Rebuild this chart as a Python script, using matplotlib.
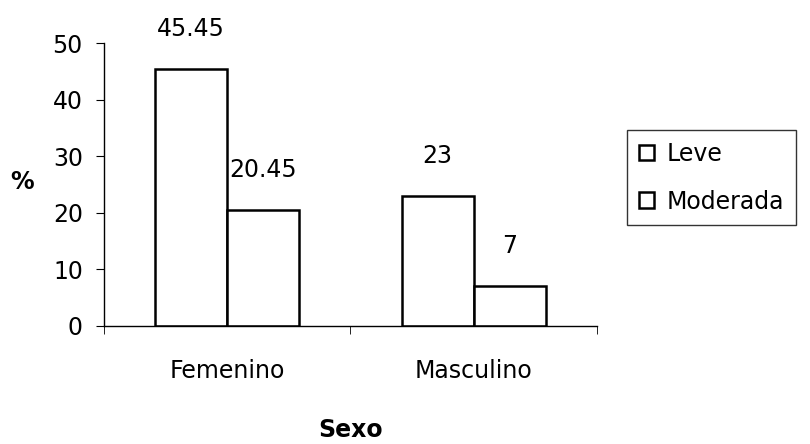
import numpy as np
import matplotlib.pyplot as plt

plt.rcParams['font.family'] = ['DejaVu Sans']

sexo = ['Femenino', 'Masculino']
leve = [45.45, 23]
moderada = [20.45, 7]
etiquetas_leve = ['45.45', '23']
etiquetas_moderada = ['20.45', '7']

fs = 17

fig = plt.figure(figsize=(8.1, 4.44), dpi=100)
ax = fig.add_axes([0.128, 0.266, 0.609, 0.637])

x = np.arange(len(sexo))
w = 0.292
b1 = ax.bar(x - w / 2, leve, w, color='white', edgecolor='black', linewidth=1.8, label='Leve')
b2 = ax.bar(x + w / 2, moderada, w, color='white', edgecolor='black', linewidth=1.8, label='Moderada')

for bars, labs in [(b1, etiquetas_leve), (b2, etiquetas_moderada)]:
    for rect, lab in zip(bars, labs):
        ax.annotate(lab, (rect.get_x() + rect.get_width() / 2, rect.get_height()),
                    xytext=(0, 29), textcoords='offset points',
                    ha='center', va='center', fontsize=fs)

ax.set_xlim(-0.5, 1.5)
ax.set_ylim(0, 50)
ax.set_yticks([0, 10, 20, 30, 40, 50])
ax.set_xticks(x)
ax.set_xticklabels(sexo)
ax.set_xticks([-0.5, 0.5, 1.5], minor=True)
ax.tick_params(axis='x', which='major', length=0, pad=24, labelsize=fs)
ax.tick_params(axis='x', which='minor', length=6, direction='out')
ax.tick_params(axis='y', length=6, direction='out', labelsize=fs, pad=9)

for s in ['top', 'right']:
    ax.spines[s].set_visible(False)
ax.spines['left'].set_linewidth(1.0)
ax.spines['bottom'].set_linewidth(1.0)

ax.set_xlabel('Sexo', fontsize=fs, fontweight='bold', labelpad=25)
ax.set_ylabel('%', fontsize=fs, fontweight='bold', rotation=0, va='center', ha='center')
ax.yaxis.set_label_coords(-0.166, 0.51)

leg = fig.legend(handles=[b1, b2], loc='upper left', bbox_to_anchor=(0.774, 0.707),
                 fontsize=fs, frameon=True, fancybox=False, edgecolor='black',
                 handlelength=0.65, handleheight=0.65, handletextpad=0.55,
                 borderpad=0.5, labelspacing=1.0, borderaxespad=0)
leg.get_frame().set_linewidth(1.0)

fig.savefig('out.png', dpi=100, facecolor='white')
